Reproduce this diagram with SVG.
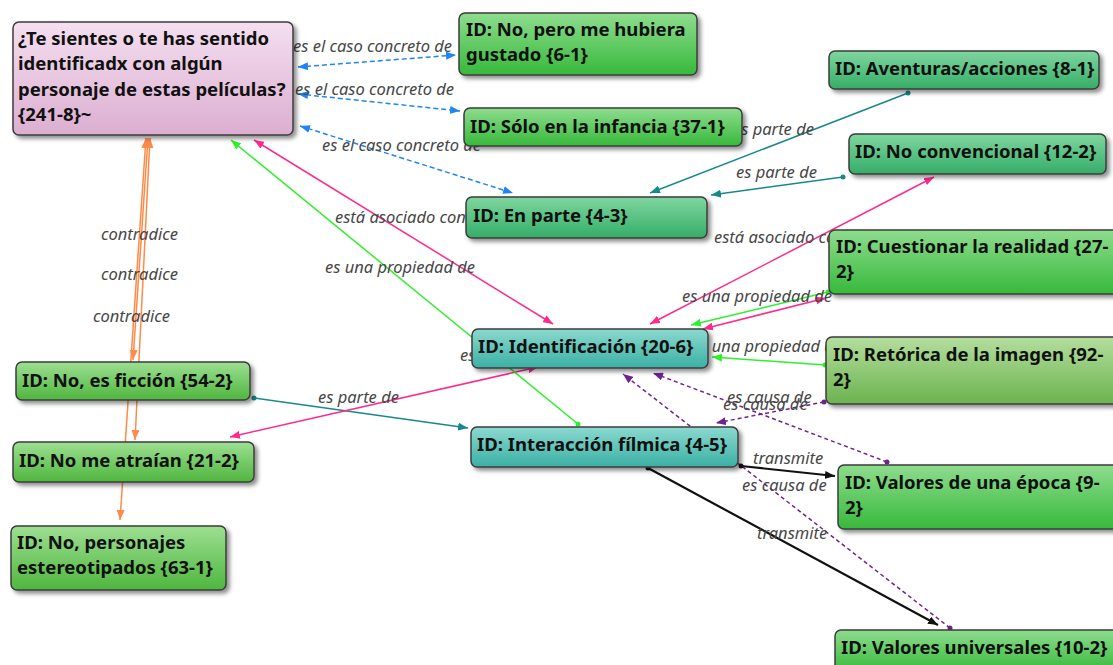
<svg xmlns="http://www.w3.org/2000/svg" width="1113" height="665" viewBox="0 0 1113 665">
  <defs>
    <style>
      .box { stroke: #3c3c3c; stroke-width: 1.5; filter: url(#shadow); }
      .txt { font-family: "Noto Sans", "Liberation Sans", sans-serif; font-weight: bold; font-size: 18.5px; fill: #111; }
      .lbl { font-family: "Noto Sans", "Liberation Sans", sans-serif; font-style: italic; font-size: 16.5px; fill: #474747; }
      .ln { fill: none; stroke-width: 1.5; }
      .blue { stroke: #1f85f5; stroke-dasharray: 5 3; marker-start: url(#aBlue); marker-end: url(#aBlue); }
      .teal { stroke: #17898a; marker-start: url(#dTeal); marker-end: url(#aTeal); }
      .pink { stroke: #ff2a8c; marker-start: url(#aPink); marker-end: url(#aPink); }
      .green { stroke: #2ef02e; marker-start: url(#dGreen); marker-end: url(#aGreen); }
      .purple { stroke: #6e2390; stroke-dasharray: 4 3; marker-start: url(#dPurple); marker-end: url(#aPurple); }
      .black { stroke: #111; stroke-width: 2.2; marker-start: url(#dBlack); marker-end: url(#aBlack); }
      .orange { stroke: #ff8a47; marker-start: url(#aOrange); marker-end: url(#aOrange); }
    </style>
    <filter id="shadow" x="-10%" y="-20%" width="130%" height="160%">
      <feDropShadow dx="3" dy="3" stdDeviation="2" flood-color="#000" flood-opacity="0.45"/>
    </filter>
    <linearGradient id="gPink" x1="0" y1="0" x2="0" y2="1">
      <stop offset="0" stop-color="#f4dff0"/><stop offset="1" stop-color="#dcaed1"/>
    </linearGradient>
    <linearGradient id="gGreen" x1="0" y1="0" x2="0" y2="1">
      <stop offset="0" stop-color="#8edc8e"/><stop offset="1" stop-color="#37b93b"/>
    </linearGradient>
    <linearGradient id="gSea" x1="0" y1="0" x2="0" y2="1">
      <stop offset="0" stop-color="#7fd6a0"/><stop offset="1" stop-color="#36ad67"/>
    </linearGradient>
    <linearGradient id="gTeal" x1="0" y1="0" x2="0" y2="1">
      <stop offset="0" stop-color="#8bd9cf"/><stop offset="1" stop-color="#3bb0a5"/>
    </linearGradient>
    <linearGradient id="gLime" x1="0" y1="0" x2="0" y2="1">
      <stop offset="0" stop-color="#9ddf92"/><stop offset="1" stop-color="#4fb63e"/>
    </linearGradient>
    <linearGradient id="gOlive" x1="0" y1="0" x2="0" y2="1">
      <stop offset="0" stop-color="#b4de9e"/><stop offset="1" stop-color="#6cb34f"/>
    </linearGradient>
    <marker id="aBlue" viewBox="0 0 10 8" refX="10" refY="4" markerWidth="10" markerHeight="8" markerUnits="userSpaceOnUse" orient="auto-start-reverse"><path d="M0,0 L10,4 L0,8 z" fill="#1f85f5"/></marker>
    <marker id="aTeal" viewBox="0 0 10 8" refX="10" refY="4" markerWidth="10" markerHeight="8" markerUnits="userSpaceOnUse" orient="auto-start-reverse"><path d="M0,0 L10,4 L0,8 z" fill="#17898a"/></marker>
    <marker id="aPink" viewBox="0 0 10 8" refX="10" refY="4" markerWidth="10" markerHeight="8" markerUnits="userSpaceOnUse" orient="auto-start-reverse"><path d="M0,0 L10,4 L0,8 z" fill="#ff2a8c"/></marker>
    <marker id="aGreen" viewBox="0 0 10 8" refX="10" refY="4" markerWidth="10" markerHeight="8" markerUnits="userSpaceOnUse" orient="auto-start-reverse"><path d="M0,0 L10,4 L0,8 z" fill="#2ef02e"/></marker>
    <marker id="aPurple" viewBox="0 0 10 8" refX="10" refY="4" markerWidth="10" markerHeight="8" markerUnits="userSpaceOnUse" orient="auto-start-reverse"><path d="M0,0 L10,4 L0,8 z" fill="#6e2390"/></marker>
    <marker id="aBlack" viewBox="0 0 10 8" refX="10" refY="4" markerWidth="10" markerHeight="8" markerUnits="userSpaceOnUse" orient="auto-start-reverse"><path d="M0,0 L10,4 L0,8 z" fill="#111"/></marker>
    <marker id="aOrange" viewBox="0 0 10 8" refX="10" refY="4" markerWidth="10" markerHeight="8" markerUnits="userSpaceOnUse" orient="auto-start-reverse"><path d="M0,0 L10,4 L0,8 z" fill="#ff8a47"/></marker>
    <marker id="dTeal" viewBox="0 0 6 6" refX="3" refY="3" markerWidth="6" markerHeight="6" markerUnits="userSpaceOnUse"><circle cx="3" cy="3" r="2.5" fill="#17898a"/></marker>
    <marker id="dGreen" viewBox="0 0 6 6" refX="3" refY="3" markerWidth="6" markerHeight="6" markerUnits="userSpaceOnUse"><circle cx="3" cy="3" r="2.5" fill="#2ef02e"/></marker>
    <marker id="dPurple" viewBox="0 0 6 6" refX="3" refY="3" markerWidth="6" markerHeight="6" markerUnits="userSpaceOnUse"><circle cx="3" cy="3" r="2.5" fill="#6e2390"/></marker>
    <marker id="dBlack" viewBox="0 0 6 6" refX="3" refY="3" markerWidth="6" markerHeight="6" markerUnits="userSpaceOnUse"><circle cx="3" cy="3" r="2.5" fill="#111"/></marker>
  </defs>

  <rect width="1113" height="665" fill="#ffffff"/>

  <!-- connectors -->
  <g id="connectors">
    <line class="ln blue" x1="298" y1="67" x2="456" y2="55"/>
    <line class="ln blue" x1="298" y1="94" x2="460" y2="111"/>
    <line class="ln blue" x1="300" y1="126" x2="513" y2="193"/>

    <line class="ln teal" x1="908" y1="93" x2="650" y2="193"/>
    <line class="ln teal" x1="843" y1="177" x2="711" y2="195"/>
    <line class="ln teal" x1="254" y1="398" x2="468" y2="428"/>

    <line class="ln pink" x1="254" y1="140" x2="553" y2="324"/>
    <line class="ln pink" x1="650" y1="324" x2="934" y2="177"/>
    <line class="ln pink" x1="703" y1="329" x2="826" y2="298"/>
    <line class="ln pink" x1="538" y1="367" x2="230" y2="437"/>

    <line class="ln green" x1="578" y1="424" x2="231" y2="140"/>
    <line class="ln green" x1="828" y1="292" x2="691" y2="325"/>
    <line class="ln green" x1="825" y1="365" x2="712" y2="357"/>

    <line class="ln purple" x1="824" y1="402" x2="716" y2="423"/>
    <line class="ln purple" x1="887" y1="462" x2="653" y2="373"/>
    <line class="ln purple" x1="950" y1="628" x2="623" y2="374"/>

    <line class="ln black" x1="741" y1="466" x2="835" y2="476"/>
    <line class="ln black" x1="648" y1="468" x2="938" y2="625"/>

    <line class="ln orange" x1="148" y1="138" x2="133" y2="360"/>
    <line class="ln orange" x1="150" y1="138" x2="135" y2="440"/>
    <line class="ln orange" x1="146" y1="138" x2="120" y2="520"/>

    <!-- relation labels -->
    <text class="lbl" x="293" y="52">es el caso concreto de</text>
    <text class="lbl" x="295" y="95">es el caso concreto de</text>
    <text class="lbl" x="322" y="151">es el caso concreto de</text>
    <text class="lbl" x="733" y="135">es parte de</text>
    <text class="lbl" x="736" y="178">es parte de</text>
    <text class="lbl" x="335" y="223">está asociado con</text>
    <text class="lbl" x="714" y="243">está asociado con</text>
    <text class="lbl" x="325" y="273">es una propiedad de</text>
    <text class="lbl" x="682" y="302">es una propiedad de</text>
    <text class="lbl" x="692" y="352">es una propiedad de</text>
    <text class="lbl" x="460" y="361">es</text>
    <text class="lbl" x="101" y="240">contradice</text>
    <text class="lbl" x="101" y="280">contradice</text>
    <text class="lbl" x="93" y="322">contradice</text>
    <text class="lbl" x="318" y="403">es parte de</text>
    <text class="lbl" x="727" y="403">es causa de</text>
    <text class="lbl" x="723" y="410">es causa de</text>
    <text class="lbl" x="753" y="464">transmite</text>
    <text class="lbl" x="742" y="491">es causa de</text>
    <text class="lbl" x="757" y="539">transmite</text>
  </g>

  <!-- nodes -->
  <g id="n-pregunta">
    <rect class="box" x="13" y="22" width="280" height="113" rx="6" fill="url(#gPink)"/>
    <text class="txt" x="18" y="45">¿Te sientes o te has sentido</text>
    <text class="txt" x="18" y="70">identificadx con algún</text>
    <text class="txt" x="18" y="96">personaje de estas películas?</text>
    <text class="txt" x="18" y="121">{241-8}~</text>
  </g>
  <g id="n-no-pero">
    <rect class="box" x="459" y="13" width="238" height="62" rx="6" fill="url(#gGreen)"/>
    <text class="txt" x="466" y="36">ID: No, pero me hubiera</text>
    <text class="txt" x="466" y="61">gustado {6-1}</text>
  </g>
  <g id="n-solo-infancia">
    <rect class="box" x="464" y="108" width="278" height="38" rx="6" fill="url(#gGreen)"/>
    <text class="txt" x="470" y="133">ID: Sólo en la infancia {37-1}</text>
  </g>
  <g id="n-en-parte">
    <rect class="box" x="466" y="197" width="241" height="41" rx="6" fill="url(#gSea)"/>
    <text class="txt" x="473" y="222">ID: En parte {4-3}</text>
  </g>
  <g id="n-aventuras">
    <rect class="box" x="829" y="51" width="270" height="38" rx="6" fill="url(#gSea)"/>
    <text class="txt" x="835" y="75">ID: Aventuras/acciones {8-1}</text>
  </g>
  <g id="n-no-convencional">
    <rect class="box" x="849" y="134" width="257" height="40" rx="6" fill="url(#gSea)"/>
    <text class="txt" x="855" y="158">ID: No convencional {12-2}</text>
  </g>
  <g id="n-cuestionar">
    <rect class="box" x="829" y="230" width="300" height="64" rx="6" fill="url(#gGreen)"/>
    <text class="txt" x="836" y="253">ID: Cuestionar la realidad {27-</text>
    <text class="txt" x="836" y="278">2}</text>
  </g>
  <g id="n-identificacion">
    <rect class="box" x="472" y="329" width="236" height="39" rx="6" fill="url(#gTeal)"/>
    <text class="txt" x="478" y="353">ID: Identificación {20-6}</text>
  </g>
  <g id="n-retorica">
    <rect class="box" x="826" y="337" width="300" height="67" rx="6" fill="url(#gOlive)"/>
    <text class="txt" x="833" y="361">ID: Retórica de la imagen {92-</text>
    <text class="txt" x="833" y="386">2}</text>
  </g>
  <g id="n-no-ficcion">
    <rect class="box" x="16" y="362" width="234" height="38" rx="6" fill="url(#gLime)"/>
    <text class="txt" x="22" y="387">ID: No, es ficción {54-2}</text>
  </g>
  <g id="n-interaccion">
    <rect class="box" x="471" y="427" width="267" height="40" rx="6" fill="url(#gTeal)"/>
    <text class="txt" x="477" y="451">ID: Interacción fílmica {4-5}</text>
  </g>
  <g id="n-no-atraian">
    <rect class="box" x="13" y="442" width="241" height="40" rx="6" fill="url(#gLime)"/>
    <text class="txt" x="19" y="467">ID: No me atraían {21-2}</text>
  </g>
  <g id="n-valores-epoca">
    <rect class="box" x="838" y="465" width="290" height="64" rx="6" fill="url(#gGreen)"/>
    <text class="txt" x="845" y="489">ID: Valores de una época {9-</text>
    <text class="txt" x="845" y="514">2}</text>
  </g>
  <g id="n-no-personajes">
    <rect class="box" x="11" y="526" width="215" height="64" rx="6" fill="url(#gLime)"/>
    <text class="txt" x="17" y="549">ID: No, personajes</text>
    <text class="txt" x="17" y="574">estereotipados {63-1}</text>
  </g>
  <g id="n-valores-universales">
    <rect class="box" x="835" y="630" width="290" height="42" rx="6" fill="url(#gGreen)"/>
    <text class="txt" x="841" y="654">ID: Valores universales {10-2}</text>
  </g>
</svg>
